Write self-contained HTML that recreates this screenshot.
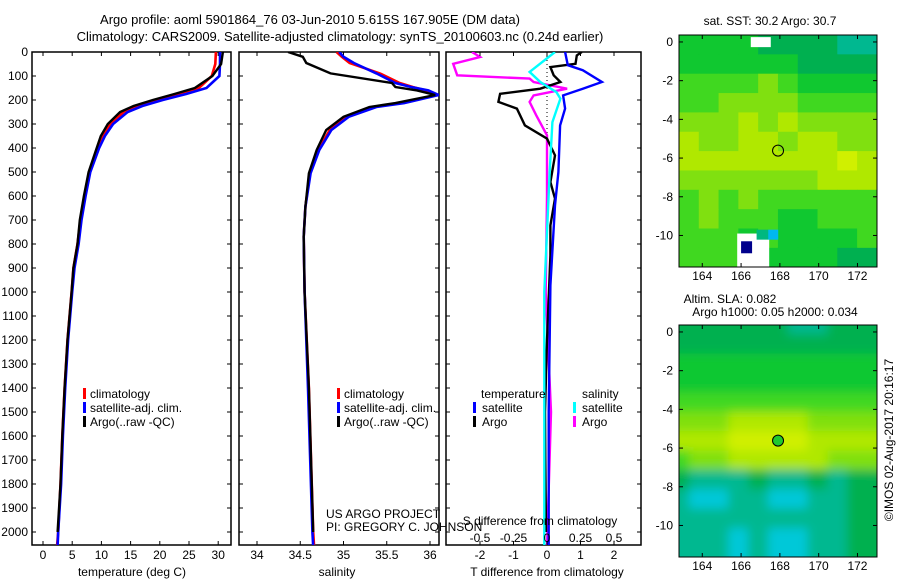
<!DOCTYPE html>
<html><head><meta charset="utf-8"><style>
html,body{margin:0;padding:0;background:#fff;}
svg{display:block;font-family:"Liberation Sans",sans-serif;}
</style></head><body>
<svg id="c" width="900" height="580" viewBox="0 0 900 580">
<defs>
<clipPath id="cp1"><rect x="32" y="52" width="199" height="493"/></clipPath>
<clipPath id="cp2"><rect x="239" y="52" width="200" height="493"/></clipPath>
<clipPath id="cp3"><rect x="446" y="52" width="195" height="493"/></clipPath>
<clipPath id="cm1"><rect x="679" y="35" width="198" height="232"/></clipPath>
<clipPath id="cm2"><rect x="679" y="325" width="198" height="232"/></clipPath>
<filter id="blur"><feGaussianBlur stdDeviation="5"/></filter>
</defs>
<text x="310" y="24" font-size="13" text-anchor="middle">Argo profile: aoml 5901864_76 03-Jun-2010 5.615S 167.905E (DM data)</text>
<text x="340" y="41" font-size="13" text-anchor="middle">Climatology: CARS2009. Satellite-adjusted climatology: synTS_20100603.nc (0.24d earlier)</text>
<g id="g"></g>
</svg>
<script>
// ---- data ----
const tDepth=[0,50,100,150,175,200,225,250,300,350,400,500,600,700,800,900,1000,1200,1400,1600,1800,2000,2060];
const tClim=[29.6,29.5,28.9,26.7,23,19.5,16,13.8,11.6,10.2,9.4,7.9,7.1,6.4,5.9,5.2,4.9,4.2,3.7,3.3,3.0,2.6,2.4];
const tSat=[30.3,30.3,30.2,28,24.5,20.5,17,14.5,12,10.6,9.6,8.1,7.3,6.6,6.1,5.4,5.0,4.3,3.8,3.4,3.1,2.6,2.5];
const tArgo=[30.8,30.5,29,26,22.5,18.8,15.5,13.2,11.1,9.9,9.2,7.8,7.0,6.3,5.9,5.2,4.9,4.2,3.7,3.3,3.0,2.5];
const sDepth=[0,20,46,89,129,146,160,179,213,229,270,325,408,505,645,770,1000,1400,2000,2060];
const sClim=[34.92,34.98,35.07,35.42,35.65,35.8,35.95,36.08,35.65,35.34,35.04,34.84,34.71,34.61,34.56,34.54,34.55,34.6,34.65,34.66];
const sSat=[34.95,35.0,35.12,35.38,35.6,35.78,35.98,36.1,35.7,35.38,35.06,34.86,34.72,34.62,34.56,34.54,34.55,34.59,34.64,34.65];
const sArgo=[34.36,34.53,34.57,34.85,35.56,35.6,35.85,36.06,35.6,35.3,35.0,34.8,34.69,34.6,34.56,34.54,34.55,34.6,34.65];
const dtSatDepth=[0,55,76,125,153,181,236,306,500,639,972,1500,2060];
const dtSat=[0.54,0.62,1.07,1.64,1.07,0.48,0.54,0.39,0.34,0.24,0.1,0.05,0.05];
const dtArgoDepth=[0,14,49,63,97,125,153,174,208,236,306,361,431,542,611,722,847,1200,1500,1700,2000];
const dtArgo=[1.04,0.89,0.85,0.1,0.2,0.4,-0.2,-1.4,-1.45,-0.9,-0.66,0,0.24,0.1,0.24,0.1,0.1,0.0,-0.06,-0.05,-0.03];
const dsArgoDepth=[0,21,49,97,111,125,153,181,208,264,347,600,1000,1500,2060];
const dsArgo=[-0.56,-0.5,-0.7,-0.67,-0.13,-0.1,0.15,-0.1,-0.13,-0.08,0,0,-0.01,0.03,0.0];
const dsSatDepth=[0,83,125,167,194,292,500,1000,1500,2060];
const dsSat=[0.06,-0.13,-0.05,0.07,0.1,0.04,0.02,-0.02,-0.02,-0.02];
const depthTicks=[0,100,200,300,400,500,600,700,800,900,1000,1100,1200,1300,1400,1500,1600,1700,1800,1900,2000];
const tTicks=[0,5,10,15,20,25,30];
const sTicks=[34,34.5,35,35.5,36];
const dTTicks=[-2,-1,0,1,2];
const dSTicks=[-0.5,-0.25,0,0.25,0.5];
const dSLabels=["-0.5","-0.25","0","0.25","0.5"];
const lonTicks=[164,166,168,170,172];
const latTicks=[0,-2,-4,-6,-8,-10];
const sstRows=["3333222211","3333332222","4444543333","4455554444","5556565555","6556656655","6666666676","5555555666","4545444444","4544433444","4443433334","4443333322"];
const slaRows=["2222221122","2222222222","3333333333","3333333333","4444444444","5556666555","6667777666","4556666655","2111211212","1001100112","1111111112","1110100112"];
const argoLon=167.905, argoLat=-5.615;
// ---- scales ----
const NS='http://www.w3.org/2000/svg';
const G=document.getElementById('g');
const yD=d=>52+d*0.24;
const xT=t=>43+t*5.84;
const xS=s=>257+(s-34)*86.5;
const xDT=t=>547+t*33.5;
const xDS=s=>547+s*134;
const mX=lon=>679+(lon-162.8)*19.4;
const mY1=lat=>35+(0.36-lat)*19.35;
const mY2=lat=>325+(0.36-lat)*19.35;
const palette=["#00c8d8","#00b890","#00b050","#10c830","#40d820","#80e010","#b0e800","#d0f000"];
function el(tag,attrs,parent){const e=document.createElementNS(NS,tag);for(const k in attrs)e.setAttribute(k,attrs[k]);(parent||G).appendChild(e);return e;}
function txt(x,y,s,anchor,size,parent){const e=el('text',{x:x,y:y,'font-size':size||12,'text-anchor':anchor||'middle'},parent);e.textContent=s;return e;}
function line(xs,ds,xf,color,clip,name,w){
  const pts=xs.map((v,i)=>xf(v).toFixed(1)+','+yD(ds[i]).toFixed(1)).join(' ');
  const p=el('polyline',{points:pts,fill:'none',stroke:color,'stroke-width':w||2.4,'clip-path':'url(#'+clip+')'});
  
  
}
function frame(x0,x1,name){
  const r=el('rect',{x:x0,y:52,width:x1-x0,height:493,fill:'none',stroke:'#000','stroke-width':1.5});
  
  
  depthTicks.forEach(d=>{el('line',{x1:x0,x2:x0+4,y1:yD(d),y2:yD(d),stroke:'#000'});el('line',{x1:x1-4,x2:x1,y1:yD(d),y2:yD(d),stroke:'#000'});});
}
function xticks(ticks,xf,labels,name,ly,x0,x1){
  ticks.forEach((t,i)=>{const x=xf(t);
    el('line',{x1:x,x2:x,y1:545,y2:541,stroke:'#000'});el('line',{x1:x,x2:x,y1:52,y2:56,stroke:'#000'});
    const e=txt(x,ly,labels?labels[i]:String(t));
    
    
  });
}
// ---- panel 1 ----
frame(32,231,'temperature-panel');
depthTicks.forEach(d=>{const e=txt(28,yD(d)+4,String(d),'end');
  
  });
xticks(tTicks,xT,null,'temperature-tick-label',559);
txt(132,576,'temperature (deg C)');
line(tClim,tDepth,xT,'#ff0000','cp1','temperature-climatology-line',2.6);
line(tSat,tDepth,xT,'#0000ff','cp1','temperature-satellite-line',2.6);
line(tArgo,tDepth.slice(0,tArgo.length),xT,'#000000','cp1','temperature-argo-line',2.4);
[['climatology','#f00'],['satellite-adj. clim.','#00f'],['Argo(..raw -QC)','#000']].forEach((l,i)=>{
  const y=398+i*14;
  el('rect',{x:83,y:y-10,width:3,height:11,fill:l[1]});
  const e=txt(90,y,l[0],'start');
  
  
});
// ---- panel 2 ----
frame(239,439,'salinity-panel');
xticks(sTicks,xS,null,'salinity-tick-label',559);
txt(337,576,'salinity');
line(sClim,sDepth,xS,'#ff0000','cp2','salinity-climatology-line',2.6);
line(sSat,sDepth,xS,'#0000ff','cp2','salinity-satellite-line',2.6);
line(sArgo,sDepth.slice(0,sArgo.length),xS,'#000000','cp2','salinity-argo-line',2.4);
[['climatology','#f00'],['satellite-adj. clim.','#00f'],['Argo(..raw -QC)','#000']].forEach((l,i)=>{
  const y=398+i*14;
  el('rect',{x:337,y:y-10,width:3,height:11,fill:l[1]});
  const e=txt(344,y,l[0],'start');
  
  
});
txt(326,518,'US ARGO PROJECT','start');
txt(326,531,'PI: GREGORY C. JOHNSON','start');
// ---- panel 3 ----
frame(446,641,'difference-panel');
el('line',{x1:547,x2:547,y1:52,y2:160,stroke:'#000','stroke-dasharray':'1,3'});
line(dsArgo,dsArgoDepth,xDS,'#ff00ff','cp3','salinity-argo-difference-line');
line(dtArgo,dtArgoDepth,xDT,'#000000','cp3','temperature-argo-difference-line');
line(dtSat,dtSatDepth,xDT,'#0000ff','cp3','temperature-satellite-difference-line');
line(dsSat,dsSatDepth,xDS,'#00ffff','cp3','salinity-satellite-difference-line');
xticks(dTTicks,xDT,null,'t-difference-tick-label',559);
dSTicks.forEach((s,i)=>{const e=txt(xDS(s),542,dSLabels[i]);
  
  });
txt(540,525,'S difference from climatology');
txt(547,576,'T difference from climatology');
[['temperature',null,481,398],['satellite','#00f',482,412],['Argo','#000',482,426],['salinity',null,582,398],['satellite','#0ff',582,412],['Argo','#f0f',582,426]].forEach(l=>{
  if(l[1])el('rect',{x:l[2]-9,y:l[3]-10,width:3,height:11,fill:l[1]});
  const e=txt(l[2],l[3],l[0],'start');
  
  
});
// ---- maps ----
function map(rows,yf,clip,name,blur){
  const g=el('g',{'clip-path':'url(#'+clip+')'});
  
  
  const inner=el('g',blur?{filter:'url(#blur)'}:{},g);
  const cw=10.2/rows[0].length;
  rows.forEach((r,ri)=>{for(let ci=0;ci<r.length;ci++){
    const lon=162.8+ci*cw, lat=0.36-ri*1.0;
    const x=mX(lon), y=yf(lat);
    const c=el('rect',{x:x-(blur?10:0),y:y-(blur?10:0),width:mX(lon+cw)-x+(blur?20:0.5),height:yf(lat-1)-y+(blur?20:0.5),fill:palette[+r[ci]]},inner);
    
  }});
  return g;
}
const m1=map(sstRows,mY1,'cm1','sst-map',false);
el('rect',{x:mX(166.5),y:mY1(0.25),width:20,height:10,fill:'#fff'},m1);
el('rect',{x:mX(165.8),y:mY1(-9.9),width:32,height:35,fill:'#fff'},m1);
el('rect',{x:mX(166.8),y:mY1(-9.7),width:12,height:10,fill:'#00b880'},m1);
el('rect',{x:mX(167.4),y:mY1(-9.7),width:10,height:10,fill:'#00b8f0'},m1);
el('rect',{x:mX(166.0),y:mY1(-10.3),width:11,height:12,fill:'#00008c'},m1);
const m2=map(slaRows,mY2,'cm2','sla-map',true);
[[m1,mY1,'sst'],[m2,mY2,'sla']].forEach(([g,yf,nm])=>{
  const c=el('circle',{cx:mX(argoLon),cy:yf(argoLat),r:5.5,fill:nm==='sla'?'#20c830':'none',stroke:'#000','stroke-width':1});
  
  
});
[[35,mY1,280,'sst-map-frame'],[325,mY2,570,'sla-map-frame']].forEach(([top,yf,ly,nm])=>{
  const r=el('rect',{x:679,y:top,width:198,height:232,fill:'none',stroke:'#000','stroke-width':1});
  
  
  lonTicks.forEach(l=>{const x=mX(l);el('line',{x1:x,x2:x,y1:top,y2:top+4,stroke:'#000'});el('line',{x1:x,x2:x,y1:top+232,y2:top+228,stroke:'#000'});
    const e=txt(x,ly,String(l));});
  latTicks.forEach(l=>{const y=yf(l);el('line',{x1:679,x2:683,y1:y,y2:y,stroke:'#000'});el('line',{x1:873,x2:877,y1:y,y2:y,stroke:'#000'});
    const e=txt(673,y+4,String(l),'end');});
});
txt(770,25,'sat. SST: 30.2 Argo: 30.7');
txt(730,303,'Altim. SLA: 0.082');
txt(775,316,'Argo h1000: 0.05 h2000: 0.034');
const cr=txt(0,0,'©IMOS 02-Aug-2017 20:16:17');
cr.setAttribute('transform','translate(893,440) rotate(-90)');


</script>
</body></html>
